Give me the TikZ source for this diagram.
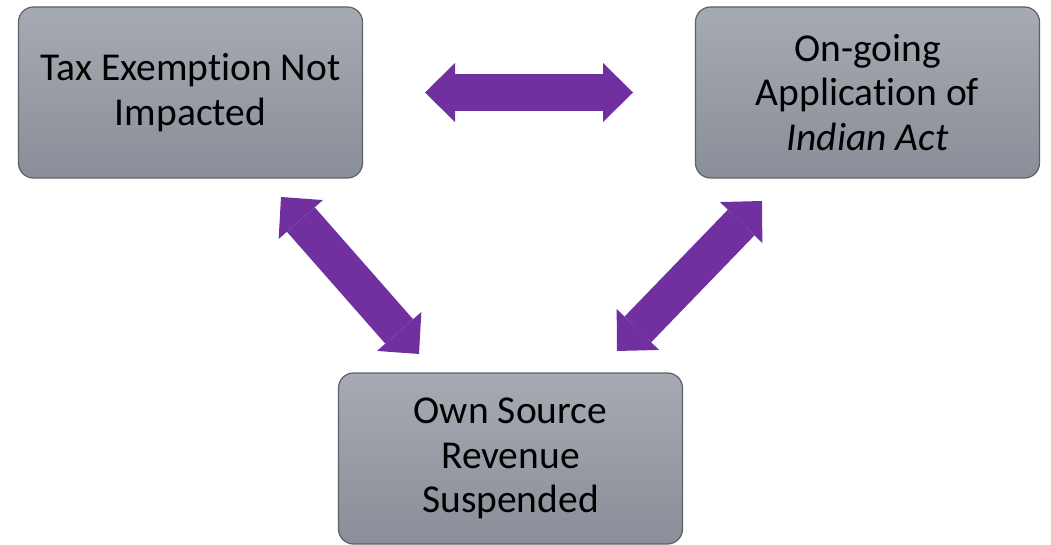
\documentclass[tikz,border=0pt]{standalone}
\usepackage{fontspec}
\setmainfont{Carlito}[Ligatures=NoCommon]
\usetikzlibrary{arrows.meta}
\definecolor{boxtop}{HTML}{A6AAB2}
\definecolor{boxbottom}{HTML}{8A8E98}
\definecolor{boxline}{HTML}{5E6066}
\definecolor{arrowpurple}{HTML}{7030A0}
\tikzset{
	issue/.style={
		draw=boxline, line width=1.2pt, rounded corners=15pt,
		top color=boxtop, bottom color=boxbottom,
		minimum width=344pt, minimum height=171pt,
		align=center, inner sep=0pt,
		font=\fontsize{39.5}{44.5}\selectfont
	},
	link/.style={
		arrowpurple, line width=37pt,
		{Triangle[width=59pt,length=30pt,line width=0pt]}-{Triangle[width=59pt,length=30pt,line width=0pt]}
	}
}

\begin{document}
\begin{tikzpicture}[x=1pt, y=-1pt]
	\useasboundingbox (0,0) rectangle (1051,545);
	\node[issue] (tax) at (190.5,92.5) {Tax Exemption Not\\Impacted};
	\node[issue] (act) at (867.5,92.5) {On-going\\Application of\\\textit{Indian Act}};
	\node[issue] (osr) at (510.5,458.5) {Own Source\\Revenue\\Suspended};
	% arrow ends
	\coordinate (tax-e) at (425,92.5);
	\coordinate (act-w) at (633,92.5);
	\coordinate (tax-s) at (281,197);
	\coordinate (osr-nw) at (419,354);
	\coordinate (act-s) at (762,201);
	\coordinate (osr-ne) at (617,351);
	\draw[link] (tax-e) -- (act-w);
	\draw[link] (tax-s) -- (osr-nw);
	\draw[link] (act-s) -- (osr-ne);
\end{tikzpicture}
\end{document}
